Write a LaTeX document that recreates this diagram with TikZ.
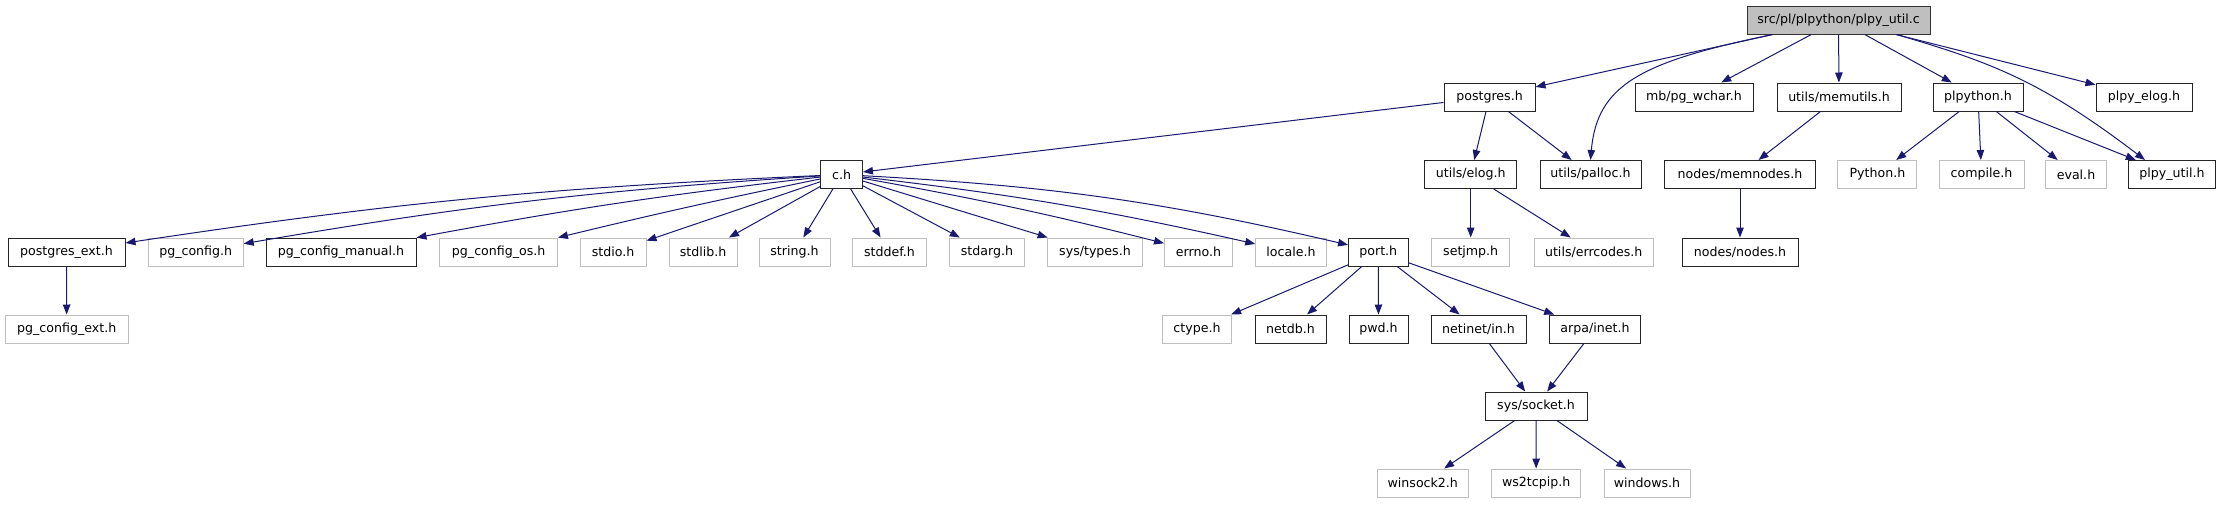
\documentclass[tikz,border=0pt]{standalone}
\usepackage{fontspec}
\setmainfont{DejaVu Sans}
\usetikzlibrary{arrows.meta,calc}
\definecolor{edgeblue}{RGB}{25,25,112}
\definecolor{lightframe}{RGB}{191,191,191}
\definecolor{rootfill}{RGB}{191,191,191}
\tikzset{
  box/.style={rectangle, inner sep=0pt, minimum height=28pt, font=\fontsize{12.6}{14}\selectfont, line width=1pt},
  doc/.style={box, draw=black!85},
  undoc/.style={box, draw=lightframe},
  rootbox/.style={box, draw=black!80, fill=rootfill},
  edge/.style={draw=edgeblue, line width=1pt, -{Triangle[length=10pt,width=7.5pt]}}
}
\begin{document}
\begin{tikzpicture}[x=1pt,y=-1pt]
\useasboundingbox (0,0) rectangle (2220,504);
% row 0
\node[rootbox, minimum width=183pt] (root) at (1838.5,20) {src/pl/plpython/plpy\_util.c};
% row 1
\node[doc, minimum width=91pt] (postgres) at (1489.5,97) {postgres.h};
\node[doc, minimum width=118pt] (pgwchar) at (1694,97) {mb/pg\_wchar.h};
\node[doc, minimum width=124pt] (memutils) at (1839,97) {utils/memutils.h};
\node[doc, minimum width=90pt] (plpython) at (1978,97) {plpython.h};
\node[doc, minimum width=96pt] (plpyelog) at (2144,97) {plpy\_elog.h};
% row 2
\node[doc, minimum width=41.5pt] (ch) at (841.7,174.5) {c.h};
\node[doc, minimum width=91.5pt] (elog) at (1470.7,174.5) {utils/elog.h};
\node[doc, minimum width=101pt] (palloc) at (1590.5,174.5) {utils/palloc.h};
\node[doc, minimum width=151pt] (memnodes) at (1740,174.5) {nodes/memnodes.h};
\node[undoc, minimum width=79pt] (python) at (1877.4,174.5) {Python.h};
\node[undoc, minimum width=85pt] (compile) at (1981.5,174.5) {compile.h};
\node[undoc, minimum width=60.5pt] (eval) at (2076,174.5) {eval.h};
\node[doc, minimum width=87.5pt] (plpyutil) at (2172,174.5) {plpy\_util.h};
% row 3
\node[doc, minimum width=117pt] (pgext) at (66.5,252) {postgres\_ext.h};
\node[undoc, minimum width=95pt] (pgconfig) at (195.7,252) {pg\_config.h};
\node[doc, minimum width=150pt] (pgmanual) at (341,252) {pg\_config\_manual.h};
\node[undoc, minimum width=117.5pt] (pgos) at (498.7,252) {pg\_config\_os.h};
\node[undoc, minimum width=66pt] (stdio) at (613,252) {stdio.h};
\node[undoc, minimum width=68pt] (stdlib) at (703,252) {stdlib.h};
\node[undoc, minimum width=71pt] (string) at (794.5,252) {string.h};
\node[undoc, minimum width=73.7pt] (stddef) at (889.5,252) {stddef.h};
\node[undoc, minimum width=75pt] (stdarg) at (987,252) {stdarg.h};
\node[undoc, minimum width=94.5pt] (systypes) at (1095,252) {sys/types.h};
\node[undoc, minimum width=68pt] (errno) at (1198.5,252) {errno.h};
\node[undoc, minimum width=70.5pt] (locale) at (1291,252) {locale.h};
\node[doc, minimum width=59.5pt] (port) at (1378.3,252) {port.h};
\node[undoc, minimum width=78pt] (setjmp) at (1470.7,252) {setjmp.h};
\node[undoc, minimum width=119.4pt] (errcodes) at (1593.7,252) {utils/errcodes.h};
\node[doc, minimum width=116pt] (nodes) at (1740,252) {nodes/nodes.h};
% row 4
\node[undoc, minimum width=122.6pt] (pgcfgext) at (66.7,329) {pg\_config\_ext.h};
\node[undoc, minimum width=69pt] (ctype) at (1197,329) {ctype.h};
\node[doc, minimum width=71pt] (netdb) at (1290.5,329) {netdb.h};
\node[doc, minimum width=59pt] (pwd) at (1378.5,329) {pwd.h};
\node[doc, minimum width=95pt] (netinet) at (1478.5,329) {netinet/in.h};
\node[doc, minimum width=90.7pt] (arpa) at (1595,329) {arpa/inet.h};
% row 5
\node[doc, minimum width=102pt] (syssocket) at (1536,406) {sys/socket.h};
% row 6
\node[undoc, minimum width=90.4pt] (winsock) at (1422.8,483) {winsock2.h};
\node[undoc, minimum width=89pt] (ws2tcpip) at (1536.2,483) {ws2tcpip.h};
\node[undoc, minimum width=86pt] (windows) at (1647,483) {windows.h};

% edges from root
\coordinate (rpa) at ($(root.south)+(-66,0)$);
\coordinate (rpu) at ($(root.south)+(58,0)$);
\coordinate (puin) at ($(plpyutil.north)+(-27,0)$);
\draw[edge] (root) -- (postgres);
\draw[edge] (rpa) .. controls (1640,62) and (1597,85) .. (palloc.north);
\draw[edge] (root) -- (pgwchar);
\draw[edge] (root) -- (memutils);
\draw[edge] (root) -- (plpython);
\draw[edge] (root) -- (plpyelog);
\draw[edge] (rpu) .. controls (1990,62) and (2040,80) .. (puin);
% postgres.h
\draw[edge] (postgres) -- (ch);
\draw[edge] (postgres) -- (elog);
\draw[edge] (postgres) -- (palloc);
% c.h
\draw[edge] (ch) to[bend right=3] (pgext);
\draw[edge] (ch) to[bend right=3] (pgconfig);
\draw[edge] (ch) to[bend right=2] (pgmanual);
\draw[edge] (ch) to[bend right=1] (pgos);
\draw[edge] (ch) -- (stdio);
\draw[edge] (ch) -- (stdlib);
\draw[edge] (ch) -- (string);
\draw[edge] (ch) -- (stddef);
\draw[edge] (ch) -- (stdarg);
\draw[edge] (ch) -- (systypes);
\draw[edge] (ch) to[bend left=2] (errno);
\draw[edge] (ch) to[bend left=3] (locale);
\draw[edge] (ch) to[bend left=5] (port);
% others
\draw[edge] (pgext) -- (pgcfgext);
\draw[edge] (elog) -- (setjmp);
\draw[edge] (elog) -- (errcodes);
\draw[edge] (memutils) -- (memnodes);
\draw[edge] (memnodes) -- (nodes);
\draw[edge] (plpython) -- (python);
\draw[edge] (plpython) -- (compile);
\draw[edge] (plpython) -- (eval);
\draw[edge] (plpython) -- (plpyutil);
\draw[edge] (port) -- (ctype);
\draw[edge] (port) -- (netdb);
\draw[edge] (port) -- (pwd);
\draw[edge] (port) -- (netinet);
\draw[edge] (port) -- (arpa);
\draw[edge] (netinet) -- (syssocket);
\draw[edge] (arpa) -- (syssocket);
\draw[edge] (syssocket) -- (winsock);
\draw[edge] (syssocket) -- (ws2tcpip);
\draw[edge] (syssocket) -- (windows);
\end{tikzpicture}
\end{document}
